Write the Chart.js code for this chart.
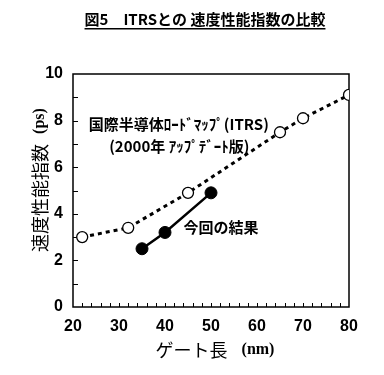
<!DOCTYPE html>
<html><head><meta charset="utf-8">
<script src="https://cdn.jsdelivr.net/npm/chart.js@4/dist/chart.umd.min.js"></script>
<style>html,body{margin:0;padding:0;background:#fff}#wrap{width:384px;height:375px}</style>
</head><body><div id="wrap"><canvas id="c" width="384" height="375"></canvas></div>
<script>
const itrsGate = [22, 32, 45, 65, 70, 80];
const itrsSpeed = [3.0, 3.4, 4.9, 7.5, 8.1, 9.1];
const ourGate = [35, 40, 50];
const ourSpeed = [2.5, 3.2, 4.9];
const titleText = '図5　ITRSとの 速度性能指数の比較';
const xTitleJP = 'ゲート長';
const xTitleUnit = '(nm)';
const yTitleJP = '速度性能指数';
const yTitleUnit = '(ps)';
const itrsLabel1 = '国際半導体ﾛｰﾄﾞﾏｯﾌﾟ(ITRS)';
const itrsLabel2 = '(2000年 ｱｯﾌﾟﾃﾞｰﾄ版)';
const ourLabel = '今回の結果';

const JP = '"Noto Sans CJK JP", sans-serif';
const SERIF = '"Liberation Serif", serif';
const NUM = '"Liberation Sans Narrow", "Liberation Sans", sans-serif';

function drawPair(ctx, jp, jpFont, unit, unitFont, cx, cy, gap) {
  ctx.font = jpFont;
  const w1 = ctx.measureText(jp).width;
  ctx.font = unitFont;
  const w2 = ctx.measureText(unit).width;
  const total = w1 + gap + w2;
  let x = cx - total / 2;
  ctx.textAlign = 'left';
  ctx.textBaseline = 'middle';
  ctx.font = jpFont;
  ctx.fillText(jp, x, cy);
  ctx.font = unitFont;
  ctx.fillText(unit, x + w1 + gap, cy);
}

const framePlugin = {
  id: 'frame',
  beforeDatasetsDraw(chart) {
    const {ctx, chartArea: a, scales} = chart;
    ctx.save();
    ctx.strokeStyle = '#000';
    ctx.lineWidth = 1.5;
    ctx.strokeRect(a.left, a.top, a.right - a.left, a.bottom - a.top);
    ctx.lineWidth = 1;
    ctx.beginPath();
    for (let v = 22; v < 80; v += 2) {
      const x = Math.round(scales.x.getPixelForValue(v)) + 0.5;
      ctx.moveTo(x, a.bottom); ctx.lineTo(x, a.bottom - 4);
    }
    for (let v = 1; v < 10; v += 1) {
      const y = Math.round(scales.y.getPixelForValue(v)) + 0.5;
      ctx.moveTo(a.left, y); ctx.lineTo(a.left + 5, y);
    }
    ctx.stroke();
    ctx.restore();
  },
  afterDraw(chart) {
    const {ctx, scales} = chart;
    ctx.save();
    ctx.fillStyle = '#000';
    ctx.textAlign = 'center';
    ctx.textBaseline = 'middle';
    // annotations
    ctx.font = 'bold 15px ' + JP;
    ctx.fillText(itrsLabel1, scales.x.getPixelForValue(43), scales.y.getPixelForValue(7.85));
    ctx.fillText(itrsLabel2, scales.x.getPixelForValue(43.1), scales.y.getPixelForValue(6.9));
    ctx.fillText(ourLabel, scales.x.getPixelForValue(52.2), scales.y.getPixelForValue(3.4));
    // title
    ctx.font = 'bold 15px ' + JP;
    const w = ctx.measureText(titleText).width;
    const cx = 205;
    ctx.fillText(titleText, cx, 19);
    ctx.fillRect(cx - w / 2, 28, w, 1.5);
    // x title
    drawPair(ctx, xTitleJP, '18px ' + JP, xTitleUnit, 'bold 16px ' + SERIF, 215, 350, 14);
    // y title (rotated)
    ctx.save();
    ctx.translate(40, 180);
    ctx.rotate(-Math.PI / 2);
    drawPair(ctx, yTitleJP, '18px ' + JP, yTitleUnit, 'bold 16px ' + SERIF, 0, 0, 10);
    ctx.restore();
    ctx.restore();
  }
};

new Chart(document.getElementById('c'), {
  type: 'scatter',
  data: {
    datasets: [
      {
        data: itrsGate.map((g, i) => ({x: g, y: itrsSpeed[i]})),
        showLine: true,
        borderColor: '#000',
        borderWidth: 3,
        borderDash: [4, 4],
        pointRadius: 5.5,
        pointBackgroundColor: '#fff',
        pointBorderColor: '#000',
        pointBorderWidth: 1.3
      },
      {
        data: ourGate.map((g, i) => ({x: g, y: ourSpeed[i]})),
        showLine: true,
        borderColor: '#000',
        borderWidth: 2.5,
        pointRadius: 6,
        pointBackgroundColor: '#000',
        pointBorderColor: '#000',
        pointBorderWidth: 1
      }
    ]
  },
  options: {
    responsive: false,
    animation: false,
    layout: {padding: {left: 0, right: 35, top: 74, bottom: 8}},
    plugins: {
      legend: {display: false},
      tooltip: {enabled: false},
      title: {display: false}
    },
    scales: {
      x: {
        type: 'linear', min: 20, max: 80,
        grid: {display: false, drawTicks: false},
        border: {display: false},
        afterFit: s => { s.height = 60; },
        ticks: {
          stepSize: 2, autoSkip: false, maxRotation: 0, padding: 10,
          color: '#000', font: {family: NUM, size: 16, weight: 'bold'},
          callback: v => (v % 10 === 0 ? String(v) : '')
        }
      },
      y: {
        type: 'linear', min: 0, max: 10,
        grid: {display: false, drawTicks: false},
        border: {display: false},
        afterFit: s => { s.width = 73; },
        ticks: {
          stepSize: 1, autoSkip: false, padding: 10,
          color: '#000', font: {family: NUM, size: 16, weight: 'bold'},
          callback: v => (v % 2 === 0 ? String(v) : '')
        }
      }
    }
  },
  plugins: [framePlugin]
});
</script>
</body></html>
